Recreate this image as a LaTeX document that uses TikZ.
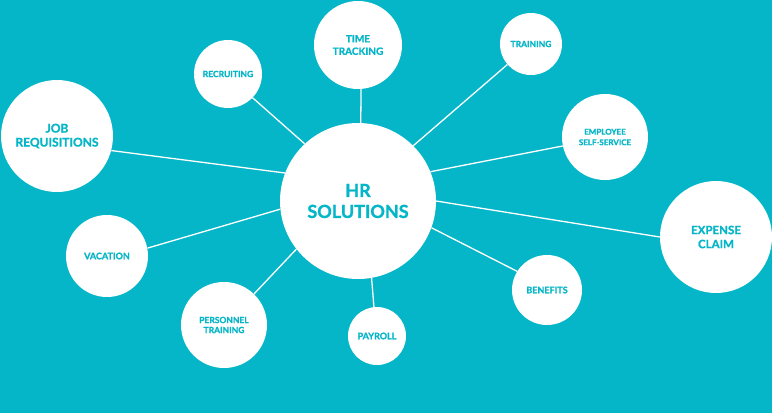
\documentclass[tikz,border=0pt]{standalone}
\usepackage{fontspec}
\setmainfont{Lato}[BoldFeatures={FakeBold=1.2}]
\definecolor{bgteal}{HTML}{05B6C8}
\begin{document}
\begin{tikzpicture}[x=1pt,y=-1pt,
  bubble/.style={circle,fill=white,inner sep=0pt,text=bgteal,align=center,font=\bfseries},
  link/.style={draw=white,line width=1.3pt}]
\fill[bgteal] (0,0) rectangle (772,413);
\useasboundingbox (0,0) rectangle (772,413);
\node[bubble,minimum size=156pt,font=\bfseries\fontsize{18}{21}\selectfont] (hr) at (358,201) {HR\\SOLUTIONS};
\node[bubble,minimum size=88pt,font=\bfseries\fontsize{10}{12.5}\selectfont] (tt) at (358,45) {TIME\\TRACKING};
\node[bubble,minimum size=68pt,font=\bfseries\fontsize{8.5}{10}\selectfont] (rec) at (228,74) {RECRUITING};
\node[bubble,minimum size=62pt,font=\bfseries\fontsize{8.5}{10}\selectfont] (tr) at (531,44) {TRAINING};
\node[bubble,minimum size=112pt,font=\bfseries\fontsize{12}{14}\selectfont] (jr) at (57,136) {JOB\\REQUISITIONS};
\node[bubble,minimum size=86pt,font=\bfseries\fontsize{8}{10.5}\selectfont] (ess) at (605,137) {EMPLOYEE\\SELF-SERVICE};
\node[bubble,minimum size=112pt,font=\bfseries\fontsize{11.5}{14}\selectfont] (exp) at (716,237) {EXPENSE\\CLAIM};
\node[bubble,minimum size=82pt,font=\bfseries\fontsize{9}{11}\selectfont] (vac) at (107,256) {VACATION};
\node[bubble,minimum size=70pt,font=\bfseries\fontsize{9}{11}\selectfont] (ben) at (547,290) {BENEFITS};
\node[bubble,minimum size=86pt,font=\bfseries\fontsize{8.5}{10}\selectfont] (pt) at (224,325) {PERSONNEL\\TRAINING};
\node[bubble,minimum size=58pt,font=\bfseries\fontsize{9}{11}\selectfont] (pay) at (377,336) {PAYROLL};
\draw[link] (hr.88) -- (tt.-86);
\draw[link] (hr.133.5) -- (rec.-44);
\draw[link] (hr.45) -- (tr.221);
\draw[link] (hr.22) -- (ess.192);
\draw[link] (hr.0) -- (exp.180);
\draw[link] (hr.-20) -- (ben.148);
\draw[link] (hr.-80) -- (pay.96);
\draw[link] (hr.218) -- (pt.46);
\draw[link] (hr.186) -- (vac.11);
\draw[link] (hr.159) -- (jr.-15);
\end{tikzpicture}
\end{document}
